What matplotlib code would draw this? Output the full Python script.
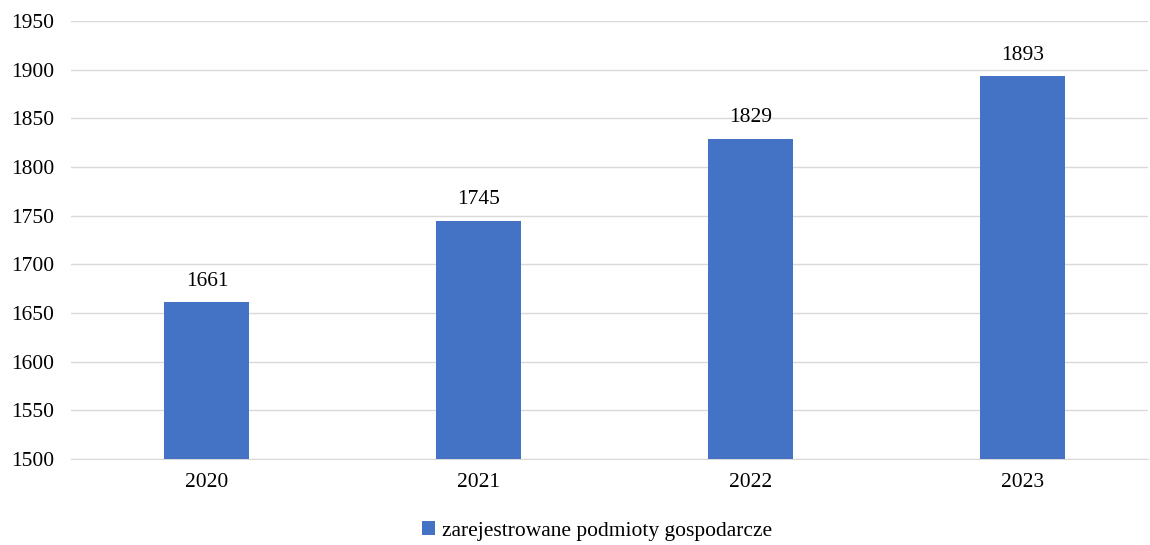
import matplotlib.pyplot as plt

years = ['2020', '2021', '2022', '2023']
values = [1661, 1745, 1829, 1893]
series_name = 'zarejestrowane podmioty gospodarcze'

plt.rcParams['font.family'] = ['Liberation Serif', 'DejaVu Serif']

fig = plt.figure(figsize=(11.5, 5.45), dpi=100)
ax = fig.add_axes([71 / 1150, 1 - 459 / 545, (1148 - 71) / 1150, (459 - 21) / 545])

bars = ax.bar(range(len(years)), values, width=0.3125, color='#4472c4', zorder=3,
              label=series_name)
for b, v in zip(bars, values):
    ax.text(b.get_x() + b.get_width() / 2, v + 12, str(v), ha='center', va='bottom',
            fontsize=15.5, color='#000000')

ax.set_ylim(1500, 1950)
ax.set_yticks(range(1500, 1951, 50))
ax.set_xlim(-0.5, 3.46)
ax.set_xticks(range(len(years)))
ax.set_xticklabels(years)
ax.tick_params(axis='both', labelsize=15.5, length=0, colors='#000000')
ax.tick_params(axis='x', pad=10)
ax.tick_params(axis='y', pad=12)
ax.grid(axis='y', color='#d9d9d9', linewidth=1, zorder=0)
for s in ['top', 'right', 'left']:
    ax.spines[s].set_visible(False)
ax.spines['bottom'].set_color('#d9d9d9')

fig.legend(handles=[bars], labels=[series_name], loc='center',
           bbox_to_anchor=(597 / 1150, 1 - 531 / 545), frameon=False, fontsize=15.5,
           handlelength=0.6, handleheight=0.6, handletextpad=0.3)

fig.savefig('out.png', dpi=100)
